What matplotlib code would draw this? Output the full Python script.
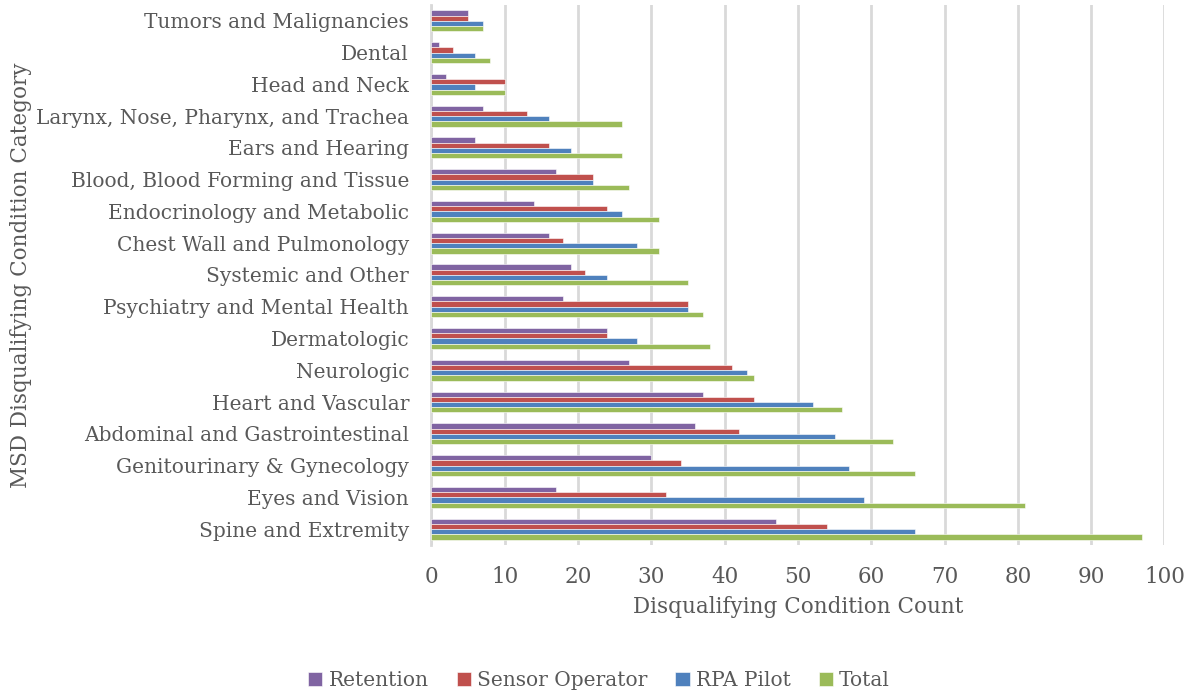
import numpy as np
import matplotlib
matplotlib.use("Agg")
import matplotlib.pyplot as plt

categories = [
    "Tumors and Malignancies", "Dental", "Head and Neck",
    "Larynx, Nose, Pharynx, and Trachea", "Ears and Hearing",
    "Blood, Blood Forming and Tissue", "Endocrinology and Metabolic",
    "Chest Wall and Pulmonology", "Systemic and Other",
    "Psychiatry and Mental Health", "Dermatologic", "Neurologic",
    "Heart and Vascular", "Abdominal and Gastrointestinal",
    "Genitourinary & Gynecology", "Eyes and Vision", "Spine and Extremity",
]
retention = [5, 1, 2, 7, 6, 17, 14, 16, 19, 18, 24, 27, 37, 36, 30, 17, 47]
sensor_operator = [5, 3, 10, 13, 16, 22, 24, 18, 21, 35, 24, 41, 44, 42, 34, 32, 54]
rpa_pilot = [7, 6, 6, 16, 19, 22, 26, 28, 24, 35, 28, 43, 52, 55, 57, 59, 66]
total = [7, 8, 10, 26, 26, 27, 31, 31, 35, 37, 38, 44, 56, 63, 66, 81, 97]

series = [
    ("Retention", retention, "#8064A2"),
    ("Sensor Operator", sensor_operator, "#C0504D"),
    ("RPA Pilot", rpa_pilot, "#4F81BD"),
    ("Total", total, "#9BBB59"),
]

plt.rcParams['font.family'] = ['DejaVu Serif']
text_color = "#595959"

fig = plt.figure(figsize=(11.98, 6.96), dpi=100)
ax = fig.add_axes([0.36, 0.217, 0.612, 0.776])

y = np.arange(len(categories))
h = 0.165
for i, (name, vals, col) in enumerate(series):
    ax.barh(y - 1.5 * h + i * h, vals, height=h, color=col, label=name,
            edgecolor="white", linewidth=0.4, zorder=3)

ax.set_ylim(len(categories) - 0.5, -0.5)
ax.set_xlim(0, 100)
ax.set_xticks(range(0, 101, 10))
ax.set_yticks(y)
ax.set_yticklabels(categories)
ax.grid(axis="x", color="#D9D9D9", linewidth=2, zorder=0)
for s in ["top", "right", "bottom"]:
    ax.spines[s].set_visible(False)
ax.spines["left"].set_color("#D9D9D9")
ax.spines["left"].set_linewidth(2)
ax.tick_params(axis="y", length=0, labelsize=14.5, colors=text_color, pad=16)
ax.tick_params(axis="x", length=0, labelsize=15.5, colors=text_color, pad=15)

ax.set_xlabel("Disqualifying Condition Count", fontsize=15.5, color=text_color, labelpad=6)
ax.set_ylabel("MSD Disqualifying Condition Category", fontsize=15.5, color=text_color)
ax.yaxis.set_label_coords(-0.545, 0.5)

leg = fig.legend(loc="lower center", ncol=4, frameon=False, fontsize=14.5,
                 handlelength=0.7, handleheight=0.7, handletextpad=0.3,
                 columnspacing=1.4, bbox_to_anchor=(0.5, -0.017))
for t in leg.get_texts():
    t.set_color(text_color)

fig.savefig("out.png", dpi=100)
